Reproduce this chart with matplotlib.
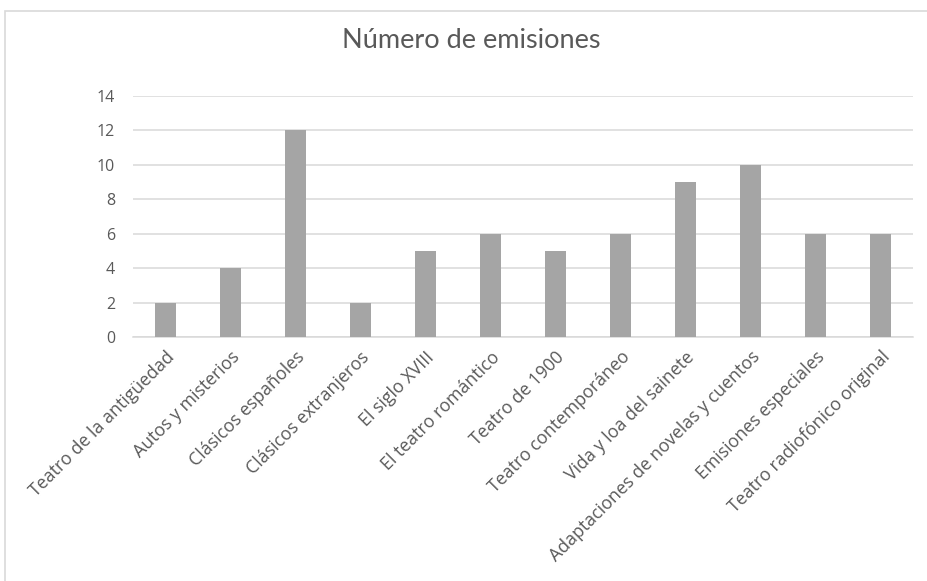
import matplotlib
matplotlib.use("Agg")
from matplotlib import pyplot as plt
from matplotlib.patches import Rectangle
import numpy as np

categories = [
    "Teatro de la antigüedad",
    "Autos y misterios",
    "Clásicos españoles",
    "Clásicos extranjeros",
    "El siglo XVIII",
    "El teatro romántico",
    "Teatro de 1900",
    "Teatro contemporáneo",
    "Vida y loa del sainete",
    "Adaptaciones de novelas y cuentos",
    "Emisiones especiales",
    "Teatro radiofónico original",
]
emisiones = [2, 4, 12, 2, 5, 6, 5, 6, 9, 10, 6, 6]
y_ticks = [0, 2, 4, 6, 8, 10, 12, 14]

text_col = "#595959"
grid_col = "#D9D9D9"
bar_col = "#A5A5A5"

plt.rcParams['font.family'] = ['Open Sans', 'DejaVu Sans']

fig = plt.figure(figsize=(9.28, 5.81), dpi=100)
# chart frame (cut off at right and bottom, as in the screenshot)
fig.patches.append(Rectangle((5 / 928, -0.1), 1.2, 1 - 11 / 581 + 0.1,
                             transform=fig.transFigure, fill=False,
                             edgecolor=grid_col, linewidth=1.2))

ax = fig.add_axes([133 / 928, 1 - 337 / 581, 780 / 928, 241 / 581])
x = np.arange(len(categories))
ax.bar(x, emisiones, width=0.32, color=bar_col, zorder=3)

ax.set_xlim(-0.5, len(categories) - 0.5)
ax.set_ylim(0, 14)
ax.set_yticks(y_ticks)
ax.set_xticks(x)
ax.set_xticklabels(categories, rotation=45, ha="right", rotation_mode="anchor",
                   fontsize=12.8, color=text_col)
ax.tick_params(axis="y", length=0, pad=13, labelsize=11.5, labelcolor=text_col)
ax.tick_params(axis="x", length=0, pad=8)
ax.grid(axis="y", color=grid_col, linewidth=1.1, zorder=0)
for s in ["top", "right", "left"]:
    ax.spines[s].set_visible(False)
ax.spines["bottom"].set_color(grid_col)
ax.spines["bottom"].set_linewidth(1.1)

fig.text(471 / 928, 1 - 40 / 581, "Número de emisiones", ha="center", va="center",
         fontsize=19.5, color=text_col, family=['Lato', 'DejaVu Sans'])

fig.savefig("out.png", dpi=100)
